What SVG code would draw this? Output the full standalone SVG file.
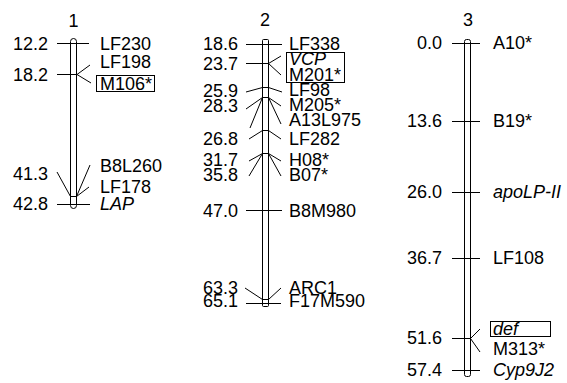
<svg xmlns="http://www.w3.org/2000/svg" width="567" height="383" viewBox="0 0 567 383">
<style>
text{font-family:"Liberation Sans",Arial,sans-serif;font-size:18px;fill:#000}
.t{text-anchor:middle}
.n{text-anchor:end}
.i{font-style:italic}
.ln{stroke:#000;stroke-width:1;fill:none}
.bar{stroke:#000;stroke-width:1;fill:#fff}
.box{stroke:#000;stroke-width:1;fill:none}
</style>
<rect width="567" height="383" fill="#fff"/>
<g id="chr1">
<text class="t" x="73.5" y="27">1</text>
<rect class="bar" x="70.5" y="38.5" width="6" height="170" rx="3"/>
<g class="ln">
<line x1="57" y1="43.5" x2="89" y2="43.5"/>
<line x1="57" y1="74.5" x2="77" y2="74.5"/>
<line x1="77" y1="74.5" x2="90" y2="65"/>
<line x1="77" y1="74.5" x2="91" y2="83"/>
<line x1="70.5" y1="196.5" x2="76.5" y2="196.5"/>
<line x1="57" y1="172" x2="70.5" y2="196.5"/>
<line x1="76.5" y1="196.5" x2="90" y2="165"/>
<line x1="76.5" y1="196.5" x2="89" y2="187"/>
<line x1="57" y1="204.5" x2="90" y2="204.5"/>
</g>
<text class="n" x="48" y="50">12.2</text>
<text class="n" x="48" y="81">18.2</text>
<text class="n" x="48" y="180">41.3</text>
<text class="n" x="48" y="210">42.8</text>
<text x="100" y="50">LF230</text>
<text x="100" y="68">LF198</text>
<rect class="box" x="96.5" y="75.5" width="58" height="16"/>
<text x="100" y="90">M106*</text>
<text x="100" y="172">B8L260</text>
<text x="100" y="193">LF178</text>
<text class="i" x="100" y="210">LAP</text>
</g>
<g id="chr2">
<text class="t" x="265" y="26">2</text>
<rect class="bar" x="262.5" y="39.5" width="6" height="267" rx="1"/>
<g class="ln">
<line x1="246" y1="44.5" x2="282" y2="44.5"/>
<line x1="246" y1="63.5" x2="268.5" y2="63.5"/>
<line x1="268.5" y1="63.5" x2="281" y2="56"/>
<line x1="268.5" y1="63.5" x2="281" y2="75"/>
<line x1="262.5" y1="87.5" x2="268.5" y2="87.5"/>
<line x1="246" y1="92" x2="262.5" y2="87.5"/>
<line x1="268.5" y1="87.5" x2="282" y2="92"/>
<line x1="262.5" y1="97.5" x2="268.5" y2="97.5"/>
<line x1="246" y1="109" x2="262.5" y2="97.5"/>
<line x1="250" y1="128" x2="262.5" y2="97.5"/>
<line x1="268.5" y1="97.5" x2="281" y2="106"/>
<line x1="268.5" y1="97.5" x2="281" y2="124"/>
<line x1="262.5" y1="130.5" x2="268.5" y2="130.5"/>
<line x1="249" y1="139" x2="262.5" y2="130.5"/>
<line x1="268.5" y1="130.5" x2="281" y2="139"/>
<line x1="262.5" y1="153.5" x2="268.5" y2="153.5"/>
<line x1="249" y1="161" x2="262.5" y2="153.5"/>
<line x1="249" y1="176" x2="262.5" y2="153.5"/>
<line x1="268.5" y1="153.5" x2="281" y2="161"/>
<line x1="268.5" y1="153.5" x2="281" y2="176"/>
<line x1="246" y1="210.5" x2="282" y2="210.5"/>
<line x1="262.5" y1="299.5" x2="268.5" y2="299.5"/>
<line x1="245" y1="288" x2="262.5" y2="299.5"/>
<line x1="268.5" y1="299.5" x2="281" y2="288"/>
<line x1="246" y1="303.5" x2="281" y2="303.5"/>
</g>
<text class="n" x="238" y="50">18.6</text>
<text class="n" x="238" y="70">23.7</text>
<text class="n" x="238" y="97">25.9</text>
<text class="n" x="238" y="112">28.3</text>
<text class="n" x="238" y="145">26.8</text>
<text class="n" x="238" y="166">31.7</text>
<text class="n" x="238" y="181">35.8</text>
<text class="n" x="238" y="217">47.0</text>
<text class="n" x="238" y="294">63.3</text>
<text class="n" x="238" y="307">65.1</text>
<text x="289" y="50">LF338</text>
<rect class="box" x="286.5" y="52.5" width="58" height="30"/>
<text class="i" x="289" y="65">VCP</text>
<text x="289" y="81">M201*</text>
<text x="289" y="96">LF98</text>
<text x="289" y="111">M205*</text>
<text x="289" y="126">A13L975</text>
<text x="289" y="145">LF282</text>
<text x="289" y="166">H08*</text>
<text x="289" y="181">B07*</text>
<text x="289" y="217">B8M980</text>
<text x="289" y="294">ARC1</text>
<text x="289" y="307">F17M590</text>
</g>
<g id="chr3">
<text class="t" x="468" y="26">3</text>
<rect class="bar" x="464.5" y="39.5" width="6" height="337" rx="2"/>
<g class="ln">
<line x1="452" y1="43.5" x2="480" y2="43.5"/>
<line x1="452" y1="121.5" x2="480" y2="121.5"/>
<line x1="452" y1="192.5" x2="480" y2="192.5"/>
<line x1="452" y1="258.5" x2="480" y2="258.5"/>
<line x1="452" y1="338.5" x2="470.5" y2="338.5"/>
<line x1="470.5" y1="338.5" x2="480" y2="329"/>
<line x1="470.5" y1="338.5" x2="480" y2="352"/>
<line x1="452" y1="370.5" x2="480" y2="370.5"/>
</g>
<text class="n" x="442" y="49">0.0</text>
<text class="n" x="442" y="127">13.6</text>
<text class="n" x="442" y="198">26.0</text>
<text class="n" x="442" y="264">36.7</text>
<text class="n" x="442" y="344">51.6</text>
<text class="n" x="442" y="376">57.4</text>
<text x="493" y="49">A10*</text>
<text x="493" y="127">B19*</text>
<text class="i" x="493" y="198">apoLP-II</text>
<text x="493" y="264">LF108</text>
<rect class="box" x="490.5" y="321.5" width="60" height="15"/>
<text class="i" x="493" y="335">def</text>
<text x="493" y="355">M313*</text>
<text class="i" x="493" y="376">Cyp9J2</text>
</g>
</svg>
